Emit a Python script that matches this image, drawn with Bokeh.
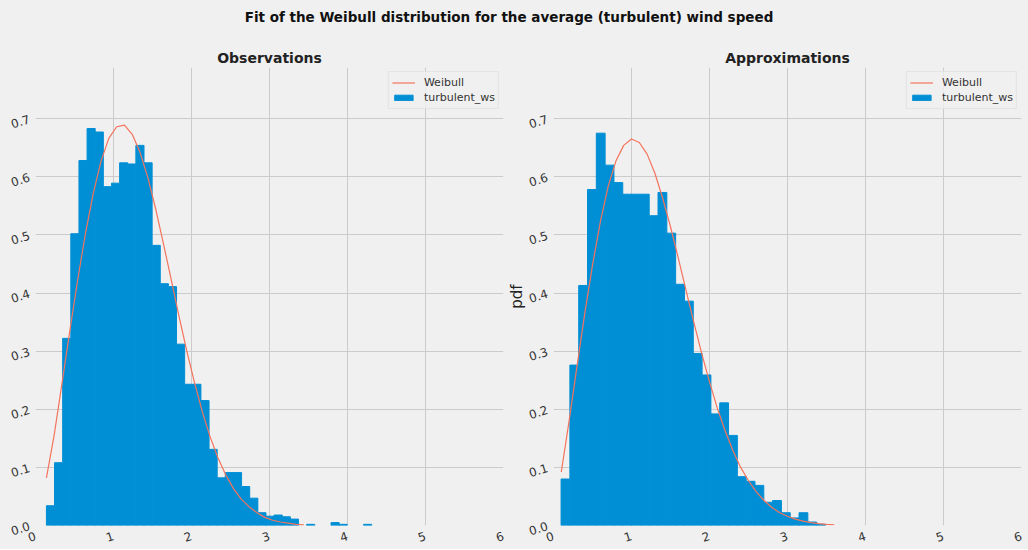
import numpy as np
from bokeh.plotting import figure
from bokeh.models import Range1d, FixedTicker, NumeralTickFormatter, Legend, LegendItem, Div
from bokeh.layouts import column, row
from bokeh.embed import file_html
from bokeh.resources import INLINE

BG = "#f0f0f0"
BAR = "#008fd5"
FIT = "#f5735c"
GRID = "#cbcbcb"
TEXT = "#333333"
FONT = "DejaVu Sans"

suptitle = "Fit of the Weibull distribution for the average (turbulent) wind speed"
series_name = "turbulent_ws"
fit_name = "Weibull"

x_ticks = [0, 1, 2, 3, 4, 5, 6]
y_ticks = [0.0, 0.1, 0.2, 0.3, 0.4, 0.5, 0.6, 0.7]

# Observations: density histogram of turbulent_ws (40 equal bins) and fitted Weibull pdf
obs_bin_range = (0.14, 4.31)
obs_density = [0.034, 0.108, 0.322, 0.502, 0.628, 0.683, 0.677, 0.583, 0.589, 0.624,
               0.622, 0.654, 0.624, 0.482, 0.416, 0.411, 0.312, 0.243, 0.243, 0.215,
               0.131, 0.082, 0.091, 0.091, 0.067, 0.047, 0.022, 0.016, 0.018, 0.015,
               0.011, 0.0, 0.002, 0.0, 0.0, 0.005, 0.002, 0.0, 0.0, 0.002]
obs_fit_x = [0.14, 0.24, 0.34, 0.44, 0.54, 0.64, 0.74, 0.84, 0.94, 1.04, 1.14, 1.24,
             1.34, 1.44, 1.54, 1.64, 1.74, 1.84, 1.94, 2.04, 2.14, 2.24, 2.34, 2.44,
             2.54, 2.64, 2.74, 2.84, 2.94, 3.04, 3.14, 3.24, 3.34, 3.44]
obs_fit_pdf = [0.082, 0.156, 0.245, 0.335, 0.422, 0.502, 0.571, 0.627, 0.666, 0.686,
               0.689, 0.673, 0.642, 0.599, 0.545, 0.485, 0.423, 0.360, 0.300, 0.245,
               0.195, 0.152, 0.116, 0.087, 0.063, 0.045, 0.032, 0.022, 0.014, 0.009,
               0.006, 0.004, 0.002, 0.001]

# Approximations: density histogram (30 equal bins) and fitted Weibull pdf
apx_bin_range = (0.097, 3.487)
apx_density = [0.080, 0.276, 0.413, 0.578, 0.675, 0.620, 0.590, 0.570, 0.570, 0.570,
               0.533, 0.573, 0.503, 0.415, 0.386, 0.296, 0.259, 0.192, 0.211, 0.155,
               0.084, 0.076, 0.069, 0.040, 0.043, 0.022, 0.013, 0.022, 0.006, 0.002]
apx_fit_x = [0.10, 0.20, 0.30, 0.40, 0.50, 0.60, 0.70, 0.80, 0.90, 1.00, 1.10, 1.20,
             1.30, 1.40, 1.50, 1.60, 1.70, 1.80, 1.90, 2.00, 2.10, 2.20, 2.30, 2.40,
             2.50, 2.60, 2.70, 2.80, 2.90, 3.00, 3.10, 3.20, 3.30, 3.40, 3.50, 3.60]
apx_fit_pdf = [0.092, 0.180, 0.273, 0.364, 0.448, 0.522, 0.583, 0.627, 0.654, 0.665,
               0.659, 0.639, 0.606, 0.563, 0.514, 0.460, 0.404, 0.349, 0.296, 0.247,
               0.202, 0.163, 0.129, 0.100, 0.077, 0.058, 0.043, 0.031, 0.022, 0.016,
               0.011, 0.0075, 0.005, 0.0033, 0.0021, 0.0013]

HEAD_H = 30
FIG_H = 519


def make_panel(title, bin_range, density, fit_x, fit_pdf, width, left, right,
               ylabel=None, margin=0):
    p = figure(width=width, height=FIG_H, title=title,
               x_range=Range1d(0, 6), y_range=Range1d(0, 0.788),
               output_backend="svg", toolbar_location=None,
               min_border_left=left, min_border_right=right,
               min_border_top=37, min_border_bottom=16,
               background_fill_color=BG, border_fill_color=BG,
               border_fill_alpha=0.0 if ylabel else 1.0,
               outline_line_color=None, margin=margin)

    # only the non-empty bins are drawn
    edges = np.linspace(bin_range[0], bin_range[1], len(density) + 1)
    dens = np.asarray(density)
    keep = dens > 0
    bars = p.quad(left=edges[:-1][keep], right=edges[1:][keep], bottom=0, top=dens[keep],
                  fill_color=BAR, line_color=BAR, line_width=1.0)
    fit = p.line(fit_x, fit_pdf, line_color=FIT, line_width=1.2)

    p.title.text_font = FONT
    p.title.text_font_size = "14px"
    p.title.text_font_style = "bold"
    p.title.text_color = "#222222"
    p.title.align = "center"
    p.title.standoff = 4

    p.xaxis.ticker = FixedTicker(ticks=x_ticks)
    p.yaxis.ticker = FixedTicker(ticks=y_ticks)
    p.yaxis.formatter = NumeralTickFormatter(format="0.0")
    for ax in (p.xaxis, p.yaxis):
        ax.axis_line_color = None
        ax.major_tick_line_color = None
        ax.minor_tick_line_color = None
        ax.major_label_text_font = FONT
        ax.major_label_text_font_size = "12px"
        ax.major_label_text_color = TEXT
        ax.major_label_orientation = 0.3
    p.xaxis.major_label_standoff = 4
    p.yaxis.major_label_standoff = 0
    if ylabel:
        p.yaxis.axis_label = ylabel
        p.yaxis.axis_label_text_font = FONT
        p.yaxis.axis_label_text_font_size = "15px"
        p.yaxis.axis_label_text_font_style = "normal"
        p.yaxis.axis_label_text_color = "#222222"
        p.yaxis.axis_label_standoff = -2

    p.xgrid.grid_line_color = GRID
    p.ygrid.grid_line_color = GRID
    p.xgrid.grid_line_width = 1
    p.ygrid.grid_line_width = 1

    legend = Legend(items=[LegendItem(label=fit_name, renderers=[fit]),
                           LegendItem(label=series_name, renderers=[bars])],
                    location="top_right", margin=4, padding=3, spacing=0,
                    glyph_width=23, glyph_height=7, label_standoff=9, label_height=15,
                    label_text_font=FONT, label_text_font_size="11px",
                    label_text_color=TEXT,
                    border_line_color="#d8d8d8", border_line_width=1,
                    background_fill_color=BG, background_fill_alpha=0.8)
    p.add_layout(legend)
    return p


left_panel = make_panel("Observations", obs_bin_range, obs_density, obs_fit_x, obs_fit_pdf,
                        width=518, left=35, right=15)
# the right panel slides under the left one's spare border so that its y label sits close
right_panel = make_panel("Approximations", apx_bin_range, apx_density, apx_fit_x, apx_fit_pdf,
                         width=530, left=55, right=7, ylabel="pdf", margin=(0, 0, 0, -20))

header = Div(text=f'<div style="width:1018px;text-align:center;font-family:\'DejaVu Sans\';'
                  f'font-weight:bold;font-size:13.5px;color:#111;padding-top:8px">{suptitle}</div>',
             width=1028, height=HEAD_H, margin=0,
             styles={"background-color": BG})

panels = row(left_panel, right_panel, spacing=0, styles={"background-color": BG})
layout = column(header, panels, spacing=0, styles={"background-color": BG})

open("out.html", "w").write(file_html(layout, INLINE))
